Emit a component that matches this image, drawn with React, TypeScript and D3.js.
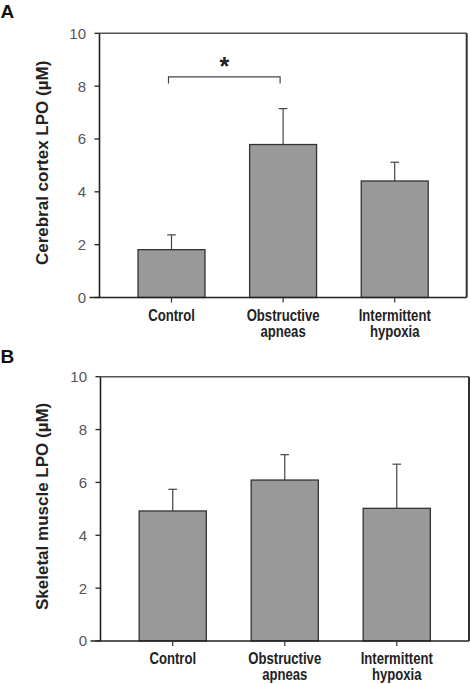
import React from "react";
import * as d3 from "d3";

const categories = ["Control", "Obstructive apneas", "Intermittent hypoxia"];
const categoryLines = [["Control"], ["Obstructive", "apneas"], ["Intermittent", "hypoxia"]];

const cortexMeans = [1.81, 5.79, 4.41];
const cortexErrors = [0.56, 1.36, 0.71];

const muscleMeans = [4.92, 6.09, 5.02];
const muscleErrors = [0.82, 0.96, 1.67];

const yTicks = [0, 2, 4, 6, 8, 10];

const cortexSignificance = [{ from: 0, to: 1, level: 8.35, drop: 0.25, label: "*" }];

type Sig = { from: number; to: number; level: number; drop: number; label: string };

type PanelProps = {
  letter: string;
  letterY: number;
  yLabel: string;
  means: number[];
  errors: number[];
  left: number;
  right: number;
  top: number;
  bottom: number;
  sigs: Sig[];
};

const font = "'Liberation Sans', Arial, sans-serif";

function Panel({ letter, letterY, yLabel, means, errors, left, right, top, bottom, sigs }: PanelProps) {
  const x = d3.scaleBand<string>().domain(categories).range([left, right]).paddingInner(0.4).paddingOuter(0.345);
  const y = d3.scaleLinear().domain([0, 10]).range([bottom, top]);
  const bw = x.bandwidth();
  const cx = (i: number) => (x(categories[i]) as number) + bw / 2;
  const capHalf = 4.3;
  return (
    <g>
      <text x={0.5} y={letterY} fontFamily={font} fontWeight="bold" fontSize={19} fill="#111">
        {letter}
      </text>
      <text
        transform={`translate(48,${(top + bottom) / 2 - 2.5}) rotate(-90)`}
        textAnchor="middle"
        fontFamily={font}
        fontWeight="bold"
        fontSize={17}
        fill="#222"
      >
        {yLabel}
      </text>
      {/* error bars */}
      {means.map((m, i) => (
        <g key={"e" + i} stroke="#444" strokeWidth={1.2}>
          <line x1={cx(i)} x2={cx(i)} y1={y(m)} y2={y(m + errors[i])} />
          <line x1={cx(i) - capHalf} x2={cx(i) + capHalf} y1={y(m + errors[i])} y2={y(m + errors[i])} />
        </g>
      ))}
      {/* bars */}
      {means.map((m, i) => (
        <rect
          key={"b" + i}
          x={x(categories[i])}
          y={y(m)}
          width={bw}
          height={y(0) - y(m)}
          fill="#999999"
          stroke="#333"
          strokeWidth={1.3}
        />
      ))}
      {/* frame */}
      <line x1={left} x2={right} y1={top} y2={top} stroke="#555" strokeWidth={1.5} />
      <line x1={right} x2={right} y1={top} y2={bottom} stroke="#333" strokeWidth={2} />
      <line x1={left} x2={left} y1={top} y2={bottom} stroke="#222" strokeWidth={1.6} />
      <line x1={left - 10} x2={right} y1={bottom} y2={bottom} stroke="#222" strokeWidth={1.6} />
      {/* y ticks */}
      {yTicks.map((t) => (
        <g key={"t" + t}>
          <line x1={left - 5} x2={left} y1={y(t)} y2={y(t)} stroke="#222" strokeWidth={1.3} />
          <text
            x={left - 13.5}
            y={y(t)}
            dy="0.36em"
            textAnchor="end"
            fontFamily={font}
            fontSize={15}
            fill="#555"
          >
            {t}
          </text>
        </g>
      ))}
      {/* x ticks and labels */}
      {categories.map((c, i) => (
        <g key={"x" + i}>
          <line x1={cx(i)} x2={cx(i)} y1={bottom} y2={bottom + 5} stroke="#333" strokeWidth={1.2} />
          {categoryLines[i].map((ln, j) => (
            <text
              key={j}
              transform={`translate(${cx(i)},${bottom + 23 + j * 16}) scale(0.82,1)`}
              textAnchor="middle"
              fontFamily={font}
              fontWeight="bold"
              fontSize={16}
              fill="#222"
            >
              {ln}
            </text>
          ))}
        </g>
      ))}
      {/* significance */}
      {sigs.map((s, k) => {
        const x1 = cx(s.from) - 3;
        const x2 = cx(s.to) - 3;
        return (
          <g key={"s" + k}>
            <path
              d={`M${x1},${y(s.level - s.drop)}V${y(s.level)}H${x2}V${y(s.level - s.drop)}`}
              fill="none"
              stroke="#444"
              strokeWidth={1.2}
            />
            <text
              x={(x1 + x2) / 2}
              y={y(s.level) - 1.5}
              textAnchor="middle"
              fontFamily={font}
              fontWeight="bold"
              fontSize={25}
              fill="#222"
            >
              {s.label}
            </text>
          </g>
        );
      })}
    </g>
  );
}

export default function App() {
  return (
    <div style={{ position: "absolute", left: 0, top: 0 }}>
      <svg width={470} height={684} style={{ display: "block", background: "#fff" }}>
        <Panel
          letter="A"
          letterY={18}
          yLabel="Cerebral cortex LPO (µM)"
          means={cortexMeans}
          errors={cortexErrors}
          left={99.5}
          right={466.7}
          top={33.3}
          bottom={297.5}
          sigs={cortexSignificance}
        />
        <Panel
          letter="B"
          letterY={363}
          yLabel="Skeletal muscle LPO (µM)"
          means={muscleMeans}
          errors={muscleErrors}
          left={100.5}
          right={469}
          top={376.7}
          bottom={641}
          sigs={[]}
        />
      </svg>
    </div>
  );
}
